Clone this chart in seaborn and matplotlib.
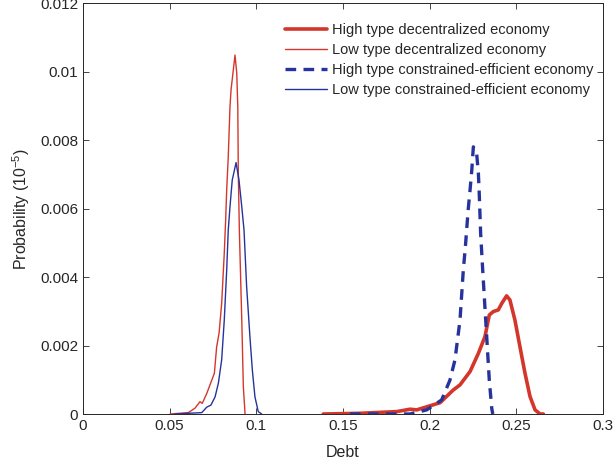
import numpy as np
import pandas as pd
import matplotlib
matplotlib.use("Agg")
import matplotlib.pyplot as plt
import seaborn as sns

# ---- data ----
low_dec_x = [0.0502, 0.0608, 0.0646, 0.0675, 0.0688, 0.0714, 0.0743, 0.0758, 0.0771, 0.0785,
             0.0800, 0.0815, 0.0823, 0.0829, 0.0838, 0.0848, 0.0854, 0.0877, 0.0887, 0.0893,
             0.0896, 0.0902, 0.0916, 0.0925, 0.0935]
low_dec_y = [0.0, 0.00004, 0.00017, 0.00036, 0.00031, 0.0006, 0.00099, 0.00119, 0.00196, 0.00236,
             0.00323, 0.00469, 0.00566, 0.00654, 0.00751, 0.00897, 0.00946, 0.01048, 0.00995, 0.00897,
             0.00703, 0.00537, 0.00274, 0.0008, 0.0]

low_ce_x = [0.0531, 0.0685, 0.0714, 0.0738, 0.0762, 0.0781, 0.0800, 0.0815, 0.0829, 0.0838,
            0.0848, 0.0861, 0.0883, 0.0900, 0.0916, 0.0929, 0.0944, 0.0963, 0.0977, 0.0992,
            0.1011, 0.1031]
low_ce_y = [0.0, 0.00004, 0.0002, 0.00026, 0.0005, 0.0009, 0.00158, 0.00274, 0.0042, 0.00537,
            0.00605, 0.00683, 0.00734, 0.00683, 0.00605, 0.00537, 0.00372, 0.00226, 0.00128, 0.0005,
            0.00007, 0.0]

high_dec_x = [0.1386, 0.1598, 0.1810, 0.1887, 0.1925, 0.1983, 0.2060, 0.2136, 0.2175, 0.2233,
              0.2281, 0.2319, 0.2344, 0.2367, 0.2396, 0.2416, 0.2444, 0.2463, 0.2492, 0.2521,
              0.2550, 0.2579, 0.2608, 0.2637, 0.2656]
high_dec_y = [0.0, 0.00002, 0.00007, 0.00014, 0.00012, 0.00021, 0.00033, 0.0007, 0.00085, 0.00124,
              0.00177, 0.00226, 0.00289, 0.00299, 0.00304, 0.00323, 0.00345, 0.00333, 0.00274, 0.00196,
              0.00119, 0.00051, 0.00012, 0.0, 0.0]

high_ce_x = [0.154, 0.1887, 0.1983, 0.2069, 0.2117, 0.2146, 0.2175, 0.2194, 0.2206, 0.2214,
             0.2223, 0.2233, 0.2243, 0.2252, 0.2271, 0.2281, 0.2286, 0.2290, 0.2294, 0.2300,
             0.2306, 0.2329, 0.2344, 0.2358, 0.2364]
high_ce_y = [0.0, 0.0, 0.00012, 0.00041, 0.00099, 0.00158, 0.00274, 0.0042, 0.00488, 0.00542,
             0.00601, 0.00654, 0.00712, 0.0078, 0.00761, 0.00703, 0.00644, 0.00586, 0.00528, 0.00474,
             0.0042, 0.00226, 0.00099, 0.00017, 0.0]

labels = ["High type decentralized economy", "Low type decentralized economy",
          "High type constrained-efficient economy", "Low type constrained-efficient economy"]

x_ticks = [0, 0.05, 0.1, 0.15, 0.2, 0.25, 0.3]
x_ticklabels = ["0", "0.05", "0.1", "0.15", "0.2", "0.25", "0.3"]
y_ticks = [0, 0.002, 0.004, 0.006, 0.008, 0.01, 0.012]
y_ticklabels = ["0", "0.002", "0.004", "0.006", "0.008", "0.01", "0.012"]

# ---- style ----
sns.set_style("white")
plt.rcParams['font.family'] = ['Liberation Sans', 'DejaVu Sans']
plt.rcParams['mathtext.fontset'] = 'custom'
plt.rcParams['mathtext.rm'] = 'Liberation Sans'
plt.rcParams['mathtext.it'] = 'Liberation Sans:italic'
dark = "#262626"
red = "#d5362b"
blue = "#27339c"

fig = plt.figure(figsize=(6.16, 4.69), dpi=100)
ax = fig.add_axes([83/616, 1 - 414/469, (603-83)/616, (414-3)/469])

series = [
    (high_dec_x, high_dec_y, labels[0], red, 2.6, "-"),
    (low_dec_x, low_dec_y, labels[1], red, 1.0, "-"),
    (high_ce_x, high_ce_y, labels[2], blue, 2.4, "--"),
    (low_ce_x, low_ce_y, labels[3], blue, 1.0, "-"),
]
for xs, ys, lab, col, lw, ls in series:
    df = pd.DataFrame({"x": xs, "y": ys})
    sns.lineplot(data=df, x="x", y="y", ax=ax, color=col, linewidth=lw,
                 linestyle=ls, label=lab, sort=False, estimator=None)
    line = ax.lines[-1]
    line.set_solid_joinstyle("round")
    if ls == "--":
        line.set_dashes((3.2, 2.2))

ax.set_xlim(0, 0.3)
ax.set_ylim(0, 0.012)
ax.set_xticks(x_ticks)
ax.set_xticklabels(x_ticklabels)
ax.set_yticks(y_ticks)
ax.set_yticklabels(y_ticklabels)
ax.tick_params(direction="in", length=4.5, width=0.6, colors=dark, labelsize=11,
               top=True, right=True, bottom=True, left=True, labelcolor=dark)
for s in ax.spines.values():
    s.set_visible(True)
    s.set_color(dark)
    s.set_linewidth(0.7)

ax.set_xlabel("Debt", fontsize=11.5, color=dark, labelpad=9)
ax.set_ylabel("Probability (10$^{-5}$)", fontsize=11.5, color=dark, labelpad=6)

leg = ax.legend(loc="upper left", bbox_to_anchor=(285/616, 1 - 23/469),
                bbox_transform=fig.transFigure, frameon=False, fontsize=10.5,
                handlelength=2.9, handletextpad=0.35, labelspacing=0.42,
                borderpad=0, borderaxespad=0)
for t in leg.get_texts():
    t.set_color(dark)

fig.savefig("out.png", dpi=100)
